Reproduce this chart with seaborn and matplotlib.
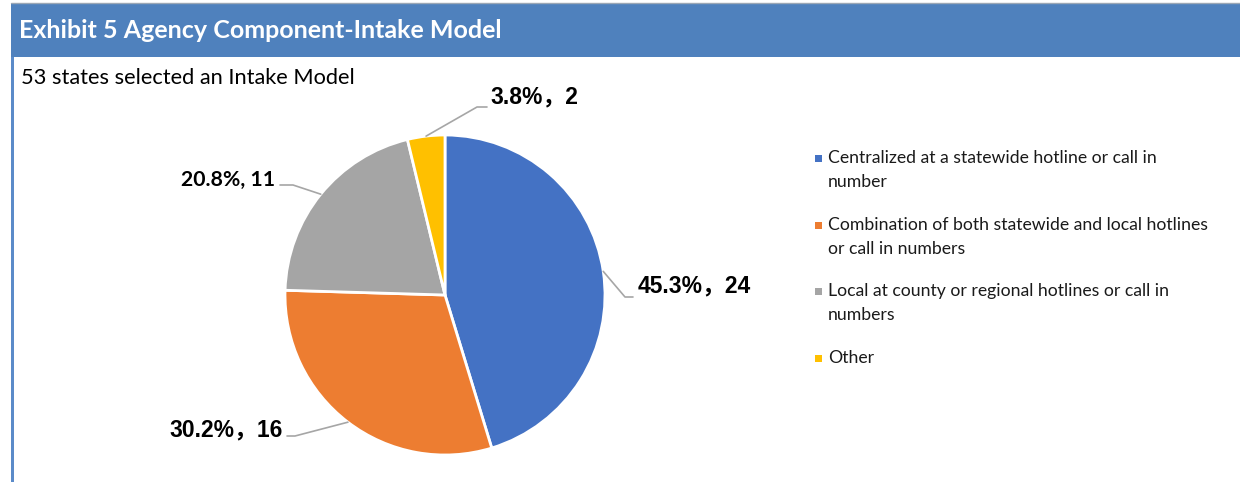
import numpy as np
import matplotlib
matplotlib.use("Agg")
import matplotlib.pyplot as plt
import seaborn as sns
from matplotlib.patches import Rectangle

# data
categories = [
    "Centralized at a statewide hotline or call in\nnumber",
    "Combination of both statewide and local hotlines\nor call in numbers",
    "Local at county or regional hotlines or call in\nnumbers",
    "Other",
]
counts = [24, 16, 11, 2]
pct_labels = ["45.3%\uff0c24", "30.2%\uff0c16", "20.8%, 11", "3.8%\uff0c2"]
colors = ["#4472C4", "#ED7D31", "#A5A5A5", "#FFC000"]

sns.set_style("white")
plt.rcParams["font.family"] = ["Lato", "DejaVu Sans"]

W, H = 1240, 482
fig = plt.figure(figsize=(W / 100, H / 100), dpi=100)
fig.patch.set_facecolor("white")

# axes in pixel units (y downwards like the picture)
ax = fig.add_axes([0, 0, 1, 1])

# pie: center and radius in pixels; y is flipped, so start at -90 (top on screen)
cx, cy, r = 445, 295, 160
wedges, _ = ax.pie(counts, colors=colors, startangle=-90, counterclock=True,
                   center=(cx, cy), radius=r, frame=True,
                   wedgeprops=dict(edgecolor="white", linewidth=2))
ax.set_xlim(0, W)
ax.set_ylim(H, 0)
ax.set_aspect("equal")
ax.axis("off")

# header band and left border
ax.add_patch(Rectangle((11, 3), W - 11, 54, facecolor="#4F81BD", edgecolor="none"))
ax.plot([11, W], [3, 3], color="#9BA7B5", lw=1)
ax.add_patch(Rectangle((11, 57), 3, H - 57, facecolor="#5B8BC9", edgecolor="none"))
ax.text(19, 31, "Exhibit 5 Agency Component-Intake Model", color="white",
        fontsize=18, fontweight="bold", va="center", ha="left")
ax.text(21, 78, "53 states selected an Intake Model", color="black",
        fontsize=15.7, va="center", ha="left")

# leader lines start at each wedge's middle angle
elbows = [((625, 297), (633, 297)), ((295, 436), (287, 436)),
          ((293, 185), (280, 185)), ((477, 107), (487, 107))]
text_pos = [(638, 286, "left"), (283, 430, "right"),
            (275, 180, "right"), (490, 97, "left")]
for w, (p1, p2), (tx, ty, ha), lab in zip(wedges, elbows, text_pos, pct_labels):
    mid = np.deg2rad((w.theta1 + w.theta2) / 2)
    ex = cx + r * np.cos(mid)
    ey = cy + r * np.sin(mid)
    ax.plot([ex, p1[0], p2[0]], [ey, p1[1], p2[1]], color="#A6A6A6", lw=1.2)
    if "\uff0c" in lab:
        ax.text(tx, ty, lab, ha=ha, va="center", fontsize=16.5, fontweight="bold",
                family=["Liberation Sans", "Noto Sans CJK SC"], color="black")
    else:
        ax.text(tx, ty, lab, ha=ha, va="center", fontsize=15.3, fontweight="bold",
                family=["Lato"], color="black")

# legend
leg_y = [158, 225, 291, 358]
for col, lab, y in zip(colors, categories, leg_y):
    ax.add_patch(Rectangle((815, y - 3.5), 7, 7, facecolor=col, edgecolor="none"))
    ax.text(828, y - 8, lab, fontsize=12.7, va="top", ha="left",
            linespacing=1.65, color="#1a1a1a")

fig.savefig("out.png", dpi=100)
